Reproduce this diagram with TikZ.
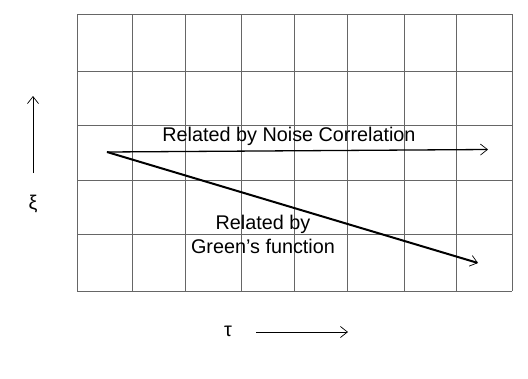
\documentclass[tikz,border=0pt]{standalone}
\usepackage{fontspec}
\setmainfont{Liberation Sans}
\usetikzlibrary{arrows.meta}
\begin{document}
\begin{tikzpicture}[x=1pt,y=-1pt,
  gridline/.style={draw=black!60, line width=0.9pt},
  tipopen/.style={-{Straight Barb[length=7pt,width=11pt,line width=0.7pt]}},
  lbl/.style={font=\fontsize{19.8}{24}\selectfont, inner sep=0pt}]
\useasboundingbox (0,0) rectangle (528,378);
\fill[white] (0,0) rectangle (528,378);
\foreach \x in {77,132,185,241,294,347,404,456,512} \draw[gridline] (\x,14) -- (\x,291);
\foreach \y in {14,71,125,180,234,291} \draw[gridline] (77,\y) -- (512,\y);
\coordinate (o) at (107,152);
\coordinate (nc) at (488,149.5);
\coordinate (gf) at (478,263);
\draw[tipopen, line width=1.3pt] (o) -- (nc);
\draw[tipopen, line width=2pt] (o) -- (gf);
\node[lbl, anchor=base] (t1) at (289,141.5) {Related by Noise Correlation};
\node[lbl, align=center, anchor=base] (t2) at (263,253) {Related by\\Green’s function};
\coordinate (ya) at (33,173);
\coordinate (yb) at (33,96);
\draw[tipopen, line width=0.8pt] (ya) -- (yb);
\node[lbl] (xi) at (33,204) {ξ};
\node[lbl] (tau) at (228,331) {τ};
\coordinate (xa) at (256,332);
\coordinate (xb) at (348,332);
\draw[tipopen, line width=0.8pt] (xa) -- (xb);
\end{tikzpicture}
\end{document}
